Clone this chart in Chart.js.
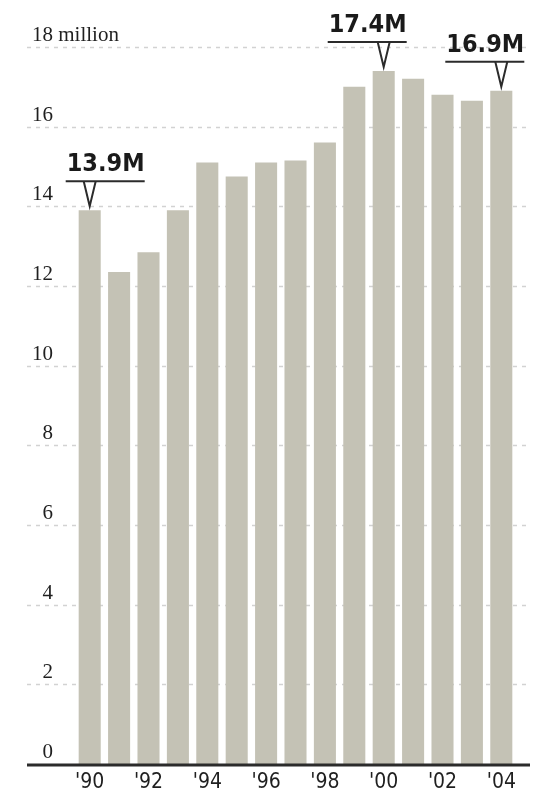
<!DOCTYPE html>
<html lang="en">

<head>
  <meta charset="UTF-8">
  <title>Bars 1990-2004</title>
  <script src="https://cdn.jsdelivr.net/npm/chart.js"></script>
  <style>
    html, body { margin: 0; padding: 0; background: #fff; }
    .myChart { position: relative; width: 537px; height: 795px; }
  </style>
</head>

<body>
  <div class="myChart">
    <canvas id="graficoBarras"></canvas>
  </div>

  <script>
    const years = ["'90", "'91", "'92", "'93", "'94", "'95", "'96", "'97", "'98", "'99", "'00", "'01", "'02", "'03", "'04"];
    const values = [13.9, 12.35, 12.85, 13.9, 15.1, 14.75, 15.1, 15.15, 15.6, 17.0, 17.4, 17.2, 16.8, 16.65, 16.9];
    const yTicks = [0, 2, 4, 6, 8, 10, 12, 14, 16, 18];

    // callouts over some bars
    const noteIndex = [0, 10, 14];
    const noteText = ['13.9M', '17.4M', '16.9M'];
    const noteSide = ['right', 'left', 'left'];

    const narrow = '"Liberation Sans Narrow", "DejaVu Sans Condensed", sans-serif';

    // dashed grid + left labels + base line
    const gridPlugin = {
      id: 'grid',
      beforeDatasetsDraw(chart) {
        const ctx = chart.ctx;
        const y = chart.scales.y;
        ctx.save();
        ctx.strokeStyle = '#d2d2d2';
        ctx.lineWidth = 1.5;
        ctx.setLineDash([4, 5]);
        yTicks.forEach(v => {
          if (v === 0) return;
          const py = Math.round(y.getPixelForValue(v)) + 0.5;
          ctx.beginPath();
          ctx.moveTo(27, py);
          ctx.lineTo(530, py);
          ctx.stroke();
        });
        ctx.setLineDash([]);

        ctx.fillStyle = '#1f1f1f';
        ctx.font = '21px "Liberation Serif", serif';
        ctx.textBaseline = 'alphabetic';
        yTicks.forEach(v => {
          const py = y.getPixelForValue(v) - 6;
          ctx.textAlign = 'right';
          ctx.fillText(String(v), 53, py);
          if (v === 18) {
            ctx.textAlign = 'left';
            ctx.fillText(' million', 53, py);
          }
        });
        ctx.restore();
      },
      afterDatasetsDraw(chart) {
        const ctx = chart.ctx;
        const y = chart.scales.y;
        const base = y.getPixelForValue(0);
        ctx.save();
        ctx.strokeStyle = '#2b2b2b';
        ctx.lineWidth = 3;
        ctx.beginPath();
        ctx.moveTo(27, base + 1);
        ctx.lineTo(530, base + 1);
        ctx.stroke();

        // callouts
        const meta = chart.getDatasetMeta(0);
        ctx.lineWidth = 2;
        ctx.fillStyle = '#1a1a1a';
        ctx.font = 'bold 25px ' + narrow;
        ctx.textAlign = 'left';
        noteIndex.forEach((idx, i) => {
          const bar = meta.data[idx];
          const tipY = bar.y - 4;
          const lineY = tipY - 25;
          const x0 = noteSide[i] === 'right' ? bar.x - 24 : bar.x - 56;
          const x1 = x0 + 79;
          ctx.beginPath();
          ctx.moveTo(x0, lineY);
          ctx.lineTo(x1, lineY);
          ctx.stroke();
          ctx.beginPath();
          ctx.moveTo(bar.x - 6, lineY);
          ctx.lineTo(bar.x, tipY);
          ctx.lineTo(bar.x + 6, lineY);
          ctx.stroke();
          ctx.fillText(noteText[i], x0 + 1, lineY - 10);
        });
        ctx.restore();
      }
    };

    const ctxBarras = document.getElementById('graficoBarras');
    new Chart(ctxBarras, {
      type: 'bar',
      data: {
        labels: years,
        datasets: [{
          data: values,
          backgroundColor: '#c4c2b5',
          categoryPercentage: 1,
          barPercentage: 0.75
        }]
      },
      options: {
        responsive: true,
        maintainAspectRatio: false,
        animation: false,
        layout: { padding: { left: 75, right: 21, top: 47, bottom: 0 } },
        plugins: {
          legend: { display: false },
          tooltip: { enabled: false }
        },
        scales: {
          x: {
            grid: { display: false, drawTicks: false },
            border: { display: false },
            afterFit(scale) { scale.height = 31; },
            ticks: {
              autoSkip: false,
              maxRotation: 0,
              padding: 6,
              color: '#1f1f1f',
              font: { family: narrow, size: 21 },
              callback: (v, i) => (i % 2 === 0 ? years[i] : '')
            }
          },
          y: {
            display: false,
            min: 0,
            max: 18
          }
        }
      },
      plugins: [gridPlugin]
    });
  </script>

</body>

</html>
